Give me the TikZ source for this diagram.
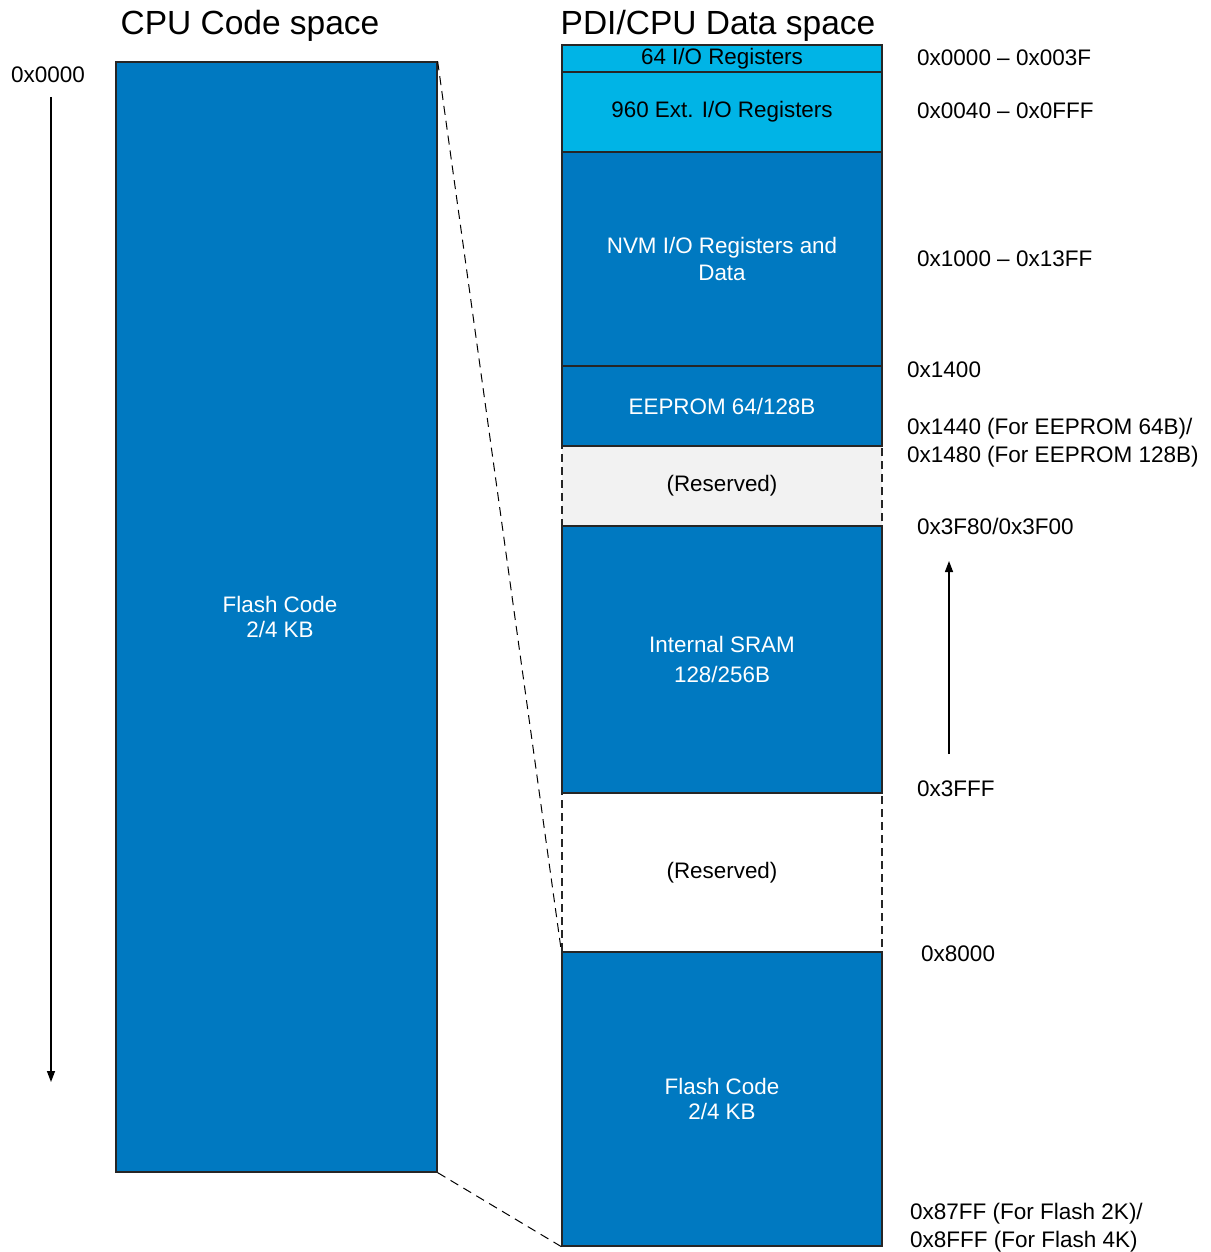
\documentclass[tikz,border=0pt]{standalone}
\usepackage{fontspec}
\setmainfont{Liberation Sans}
\usetikzlibrary{arrows.meta}
\definecolor{dkblue}{RGB}{0,121,193}
\definecolor{ltblue}{RGB}{0,180,230}
\definecolor{resgrey}{RGB}{242,242,242}
\tikzset{
  memblock/.style={draw=black!85, line width=1.3pt, fill=dkblue, text=white, inner sep=0pt, minimum width=320pt, align=center, font=\fontsize{22.4}{27}\selectfont},
  ioblock/.style={memblock, fill=ltblue, text=black},
  resblock/.style={memblock, fill=resgrey, text=black, dash pattern=on 8pt off 5pt},
  addr/.style={anchor=base west, inner sep=0pt, font=\fontsize{22.5}{28}\selectfont},
  title/.style={anchor=base, inner sep=0pt, font=\fontsize{33.5}{40}\selectfont},
  mapline/.style={line width=1pt, dash pattern=on 9pt off 6pt},
  axis/.style={line width=1.4pt, -{Triangle[length=11pt,width=8pt]}}
}
\begin{document}
\begin{tikzpicture}[x=1pt,y=-1pt]
\useasboundingbox (0,0) rectangle (1210,1252);
% titles
\node[title] (t1) at (250,35) {CPU Code space};
\node[title] (t2) at (718,35) {PDI/CPU Data space};
% left flash
\node[memblock, minimum width=321pt, minimum height=1110pt, font=\fontsize{22.4}{25}\selectfont] (lflash) at (276.5,617) {\hspace*{7pt}Flash Code\\\hspace*{7pt}2/4 KB};
% reserved blocks first
\node[resblock, minimum height=80pt] (res1) at (722,486) {(Reserved)};
\node[resblock, fill=white, minimum height=159pt] (res2) at (722,872.5) {(Reserved)};
% solid blocks
\node[ioblock, minimum height=27pt] (io) at (722,58.5) {64 I/O Registers};
\node[ioblock, minimum height=80pt] (extio) at (722,112) {960 Ext. I/O Registers};
\node[memblock, minimum height=214pt] (nvm) at (722,259) {NVM I/O Registers and\\Data};
\node[memblock, minimum height=80pt] (eep) at (722,406) {EEPROM 64/128B};
\node[memblock, minimum height=267pt, font=\fontsize{22.4}{30}\selectfont] (sram) at (722,659.5) {Internal SRAM\\128/256B};
\node[memblock, minimum height=294pt, font=\fontsize{22.4}{25}\selectfont] (rflash) at (722,1099) {Flash Code\\2/4 KB};
% mapping lines
\draw[mapline] (lflash.north east) -- (rflash.north west);
\draw[mapline] (lflash.south east) -- (rflash.south west);
% arrows
\coordinate (la1) at (51,97);
\coordinate (la2) at (51,1082);
\coordinate (ra1) at (949,754);
\coordinate (ra2) at (949,561);
\draw[axis] (la1) -- (la2);
\draw[axis] (ra1) -- (ra2);
% addresses
\node[addr] (a0) at (11,83) {0x0000};
\node[addr] (a1) at (917,66) {0x0000 – 0x003F};
\node[addr] (a2) at (917,119) {0x0040 – 0x0FFF};
\node[addr] (a3) at (917,266) {0x1000 – 0x13FF};
\node[addr] (a4) at (907,377) {0x1400};
\node[addr] (a5) at (907,434) {0x1440 (For EEPROM 64B)/};
\node[addr] (a6) at (907,462) {0x1480 (For EEPROM 128B)};
\node[addr] (a7) at (917,534) {0x3F80/0x3F00};
\node[addr] (a8) at (917,796) {0x3FFF};
\node[addr] (a9) at (921,961) {0x8000};
\node[addr] (a10) at (910,1219) {0x87FF (For Flash 2K)/};
\node[addr] (a11) at (910,1247) {0x8FFF (For Flash 4K)};
\end{tikzpicture}
\end{document}
